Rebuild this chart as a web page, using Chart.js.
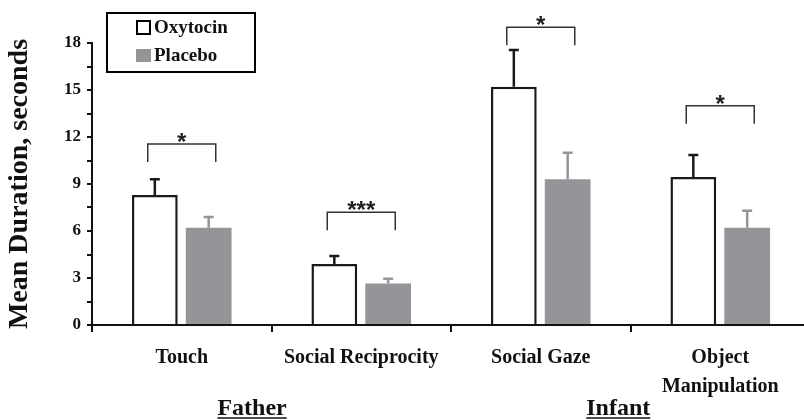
<!DOCTYPE html>
<html><head><meta charset="utf-8">
<script src="https://cdn.jsdelivr.net/npm/chart.js@4"></script>
<style>html,body{margin:0;padding:0;overflow:hidden;background:#fff}#wrap{width:812px;height:420px;position:relative}</style>
</head><body><div id="wrap"><canvas id="c" width="812" height="420"></canvas></div>
<script>
// ---- data ----
const categories = ['Touch', 'Social Reciprocity', 'Social Gaze', ['Object', 'Manipulation']];
const seriesNames = ['Oxytocin', 'Placebo'];
const oxytocin = [8.3, 3.9, 15.2, 9.45];
const placebo = [6.2, 2.65, 9.3, 6.2];
const oxytocinSE = [1.0, 0.5, 2.35, 1.4];
const placeboSE = [0.7, 0.3, 1.7, 1.1];
const sigLabels = ['*', '***', '*', '*'];
const sigLevels = [11.55, 7.2, 19.0, 14.0];
const groupLabels = ['Father', 'Infant'];
const yMajorTicks = [0, 3, 6, 9, 12, 15, 18];

const SERIF = '"Liberation Serif", "Times New Roman", serif';
const SANS = '"Liberation Sans", Arial, sans-serif';
const GRAY = '#939598';

const errorBars = {
  id: 'errorBars',
  afterDatasetsDraw(chart) {
    const ctx = chart.ctx, y = chart.scales.y;
    const seList = [oxytocinSE, placeboSE];
    const colors = ['#1a1a1a', GRAY];
    chart.data.datasets.forEach((ds, i) => {
      const meta = chart.getDatasetMeta(i);
      meta.data.forEach((el, j) => {
        const top = y.getPixelForValue(ds.data[j] + seList[i][j]);
        ctx.save();
        ctx.strokeStyle = colors[i];
        ctx.lineWidth = 2.5;
        ctx.beginPath();
        ctx.moveTo(el.x, el.y);
        ctx.lineTo(el.x, top);
        ctx.moveTo(el.x - 5, top);
        ctx.lineTo(el.x + 5, top);
        ctx.stroke();
        ctx.restore();
      });
    });
  }
};

const brackets = {
  id: 'brackets',
  afterDraw(chart) {
    const ctx = chart.ctx, x = chart.scales.x, y = chart.scales.y;
    sigLevels.forEach((lv, j) => {
      const cx = x.getPixelForValue(j);
      const yy = y.getPixelForValue(lv);
      ctx.save();
      ctx.strokeStyle = '#333';
      ctx.lineWidth = 1.5;
      ctx.beginPath();
      ctx.moveTo(cx - 34, yy + 18);
      ctx.lineTo(cx - 34, yy);
      ctx.lineTo(cx + 34, yy);
      ctx.lineTo(cx + 34, yy + 18);
      ctx.stroke();
      ctx.fillStyle = '#222';
      ctx.font = 'bold 24px ' + SANS;
      ctx.textAlign = 'center';
      ctx.textBaseline = 'alphabetic';
      ctx.fillText(sigLabels[j], cx, yy + 6);
      ctx.restore();
    });
  }
};

const legendBox = {
  id: 'legendBox',
  afterDraw(chart) {
    const ctx = chart.ctx;
    ctx.save();
    ctx.strokeStyle = '#000';
    ctx.lineWidth = 2;
    ctx.strokeRect(107, 13, 148, 59);
    ctx.font = 'bold 19px ' + SERIF;
    ctx.textBaseline = 'middle';
    ctx.textAlign = 'left';
    chart.data.datasets.forEach((ds, i) => {
      const cy = 27 + i * 28;
      if (i === 0) {
        ctx.fillStyle = '#fff';
        ctx.fillRect(137, cy - 6, 13, 13);
        ctx.lineWidth = 2;
        ctx.strokeStyle = '#000';
        ctx.strokeRect(137, cy - 6, 13, 13);
      } else {
        ctx.fillStyle = ds.backgroundColor;
        ctx.fillRect(136, cy - 6, 15, 13);
      }
      ctx.fillStyle = '#111';
      ctx.fillText(ds.label, 154, cy + 1);
    });
    ctx.restore();
  }
};

const groupTitles = {
  id: 'groupTitles',
  afterDraw(chart) {
    const ctx = chart.ctx, a = chart.chartArea;
    const fr = [0.223, 0.733];
    ctx.save();
    ctx.font = 'bold 24px ' + SERIF;
    ctx.fillStyle = '#111';
    ctx.strokeStyle = '#111';
    ctx.textAlign = 'center';
    ctx.textBaseline = 'alphabetic';
    groupLabels.forEach((t, i) => {
      const cx = a.left + fr[i] * (a.right - a.left);
      const base = 415;
      ctx.fillText(t, cx, base);
      const w = ctx.measureText(t).width;
      ctx.lineWidth = 1.5;
      ctx.beginPath();
      ctx.moveTo(cx - w / 2, base + 3);
      ctx.lineTo(cx + w / 2, base + 3);
      ctx.stroke();
    });
    ctx.restore();
  }
};

new Chart(document.getElementById('c'), {
  type: 'bar',
  data: {
    labels: categories,
    datasets: [
      { label: seriesNames[0], data: oxytocin, backgroundColor: '#ffffff', borderColor: '#1a1a1a', borderWidth: 2.5,
        categoryPercentage: 0.6, barPercentage: 0.85 },
      { label: seriesNames[1], data: placebo, backgroundColor: GRAY, borderWidth: 0,
        categoryPercentage: 0.6, barPercentage: 0.85 }
    ]
  },
  options: {
    responsive: false,
    animation: false,
    devicePixelRatio: 1,
    layout: { padding: { top: 43, left: 0, right: 2, bottom: 0 } },
    plugins: { legend: { display: false }, tooltip: { enabled: false } },
    scales: {
      x: {
        afterFit(s) { s.height = 95; },
        border: { color: '#111', width: 2 },
        grid: { drawOnChartArea: false, drawTicks: true, tickLength: 7, color: '#111', lineWidth: 2 },
        ticks: { color: '#111', font: { family: SERIF, size: 20, weight: 'bold', lineHeight: 1.45 },
          maxRotation: 0, autoSkip: false, padding: 11 }
      },
      y: {
        min: 0, max: 18,
        afterFit(s) { s.width = 92; },
        border: { color: '#111', width: 2 },
        grid: { drawOnChartArea: false, drawTicks: true, tickLength: 5, color: '#111', lineWidth: 2 },
        ticks: { stepSize: 1.5, color: '#111', padding: 6,
          font: { family: SERIF, size: 17, weight: 'bold' },
          callback: v => yMajorTicks.includes(v) ? String(v) : '' },
        title: { display: true, text: 'Mean Duration, seconds', color: '#111',
          font: { family: SERIF, size: 28, weight: 'bold' }, padding: { top: 3, bottom: 0 } }
      }
    }
  },
  plugins: [errorBars, brackets, legendBox, groupTitles]
});
</script></body></html>
